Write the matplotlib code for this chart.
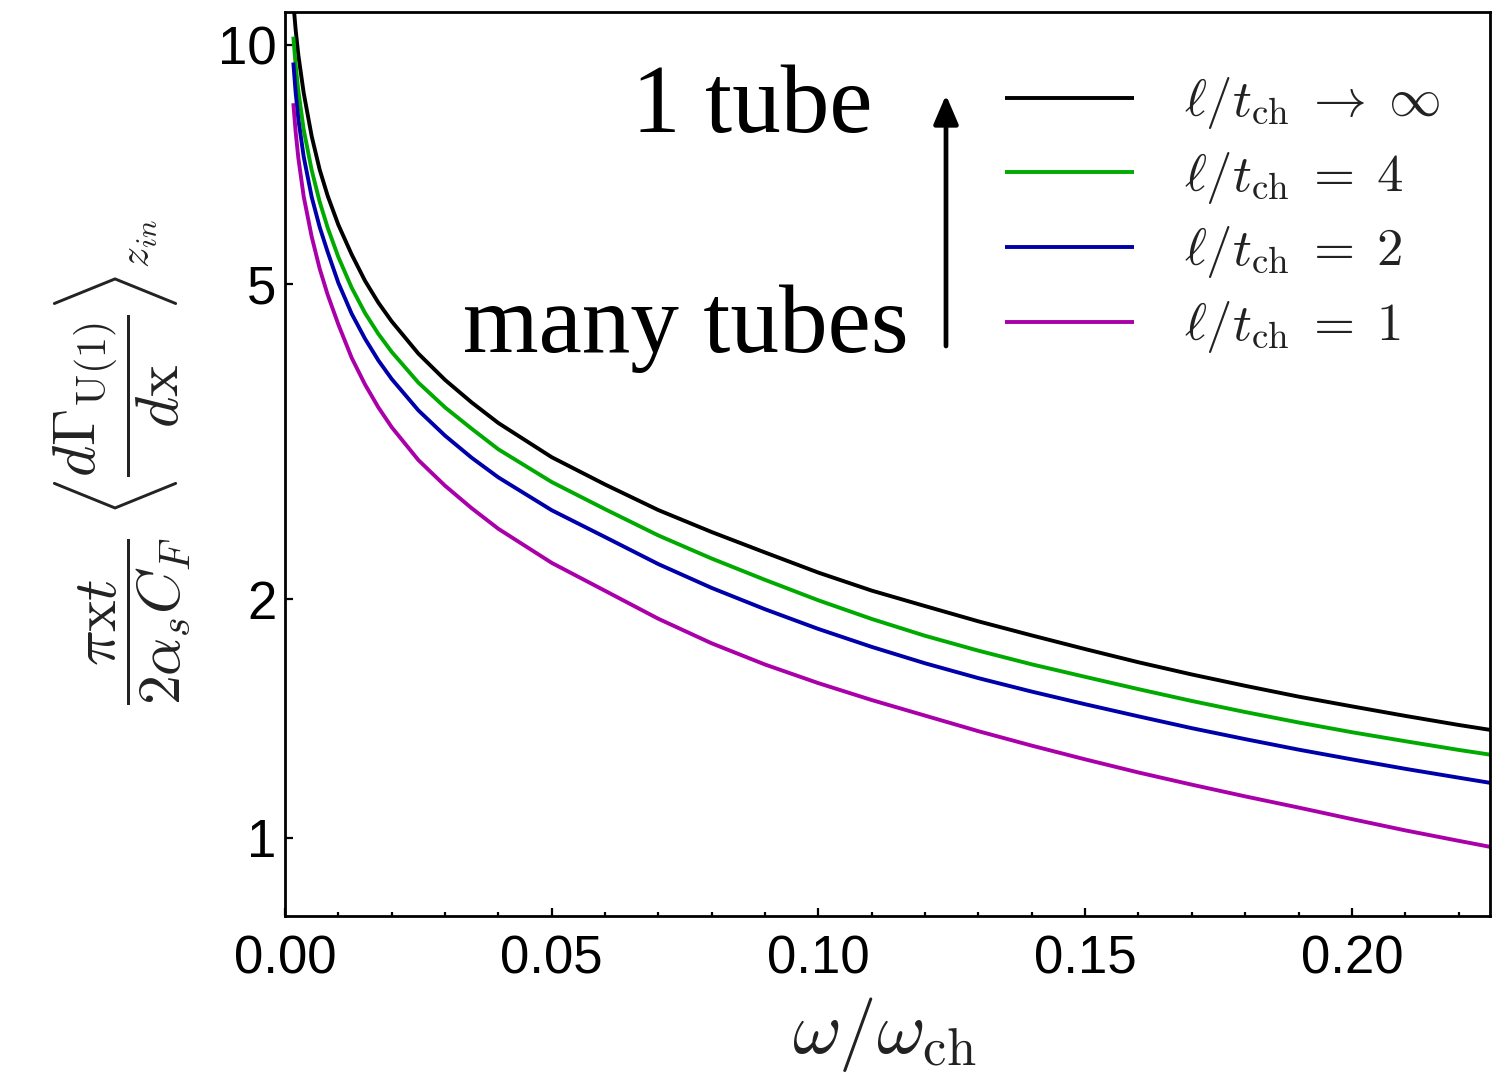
import matplotlib
matplotlib.use("Agg")
import matplotlib.pyplot as plt
from matplotlib.ticker import FixedLocator, FixedFormatter, NullLocator
from matplotlib.transforms import Bbox

plt.rcParams["mathtext.fontset"] = "cm"
plt.rcParams["font.family"] = ["Liberation Sans", "DejaVu Sans"]

# omega / omega_ch sample points shared by all curves
omega = [0.00156, 0.002, 0.0025, 0.0035, 0.005, 0.0065, 0.008, 0.01, 0.0125,
         0.015, 0.0175, 0.02, 0.025, 0.03, 0.035, 0.04, 0.05, 0.06, 0.07,
         0.08, 0.09, 0.10, 0.11, 0.12, 0.13, 0.14, 0.15, 0.16, 0.17, 0.18,
         0.19, 0.20, 0.21, 0.22, 0.226]

# rescaled emission rate for l/t_ch -> infinity, 4, 2, 1
rate_inf = [11.31, 10.44, 9.71, 8.70, 7.67, 6.96, 6.45, 5.93, 5.44,
            5.04, 4.73, 4.48, 4.08, 3.78, 3.54, 3.335, 3.02, 2.79, 2.59,
            2.43, 2.29, 2.16, 2.05, 1.96, 1.875, 1.80, 1.73, 1.665, 1.607, 1.555,
            1.507, 1.465, 1.425, 1.388, 1.368]
rate_4 = [10.24, 9.42, 8.75, 7.82, 6.95, 6.34, 5.88, 5.40, 4.94,
          4.59, 4.32, 4.10, 3.75, 3.49, 3.28, 3.09, 2.81, 2.597, 2.406,
          2.25, 2.115, 1.993, 1.888, 1.798, 1.722, 1.655, 1.596, 1.540, 1.488, 1.441,
          1.398, 1.359, 1.324, 1.291, 1.273]
rate_2 = [9.50, 8.70, 8.06, 7.23, 6.43, 5.89, 5.48, 5.01, 4.58,
          4.26, 4.00, 3.79, 3.46, 3.215, 3.015, 2.848, 2.589, 2.395, 2.214,
          2.066, 1.942, 1.834, 1.741, 1.660, 1.590, 1.529, 1.474, 1.423, 1.375, 1.332,
          1.292, 1.256, 1.222, 1.191, 1.173]
rate_1 = [8.44, 7.76, 7.20, 6.44, 5.73, 5.22, 4.84, 4.44, 4.03,
          3.73, 3.49, 3.295, 2.995, 2.78, 2.604, 2.453, 2.222, 2.049, 1.889,
          1.759, 1.654, 1.567, 1.492, 1.426, 1.363, 1.307, 1.256, 1.209, 1.167, 1.128,
          1.092, 1.056, 1.022, 0.9915, 0.974]

series_labels = [r"$\ell/t_{\rm ch}\;\rightarrow\;\infty$",
                 r"$\ell/t_{\rm ch}\;=\;4$",
                 r"$\ell/t_{\rm ch}\;=\;2$",
                 r"$\ell/t_{\rm ch}\;=\;1$"]
series_colors = ["#000000", "#00aa00", "#0000aa", "#aa00aa"]

x_ticks = [0.00, 0.05, 0.10, 0.15, 0.20]
x_tick_labels = ["0.00", "0.05", "0.10", "0.15", "0.20"]
x_minor_ticks = [0.01, 0.02, 0.03, 0.04, 0.06, 0.07, 0.08, 0.09, 0.11, 0.12,
                 0.13, 0.14, 0.16, 0.17, 0.18, 0.19, 0.21, 0.22]
y_ticks = [1, 2, 5, 10]
y_tick_labels = ["1", "2", "5", "10"]

W, H = 1507, 1078
fig = plt.figure(figsize=(W / 100, H / 100), dpi=100)
ax = fig.add_axes([285 / W, 1 - 916 / H, (1490 - 285) / W, (916 - 12) / H])

lines = []
for yv, lab, col in zip([rate_inf, rate_4, rate_2, rate_1], series_labels, series_colors):
    ln, = ax.plot(omega, yv, color=col, lw=2.8, label=lab, solid_capstyle="butt")
    lines.append(ln)

ax.set_yscale("log")
ax.set_xlim(0, 0.2259)
ax.set_ylim(0.797, 11.0)

ax.yaxis.set_major_locator(FixedLocator(y_ticks))
ax.yaxis.set_major_formatter(FixedFormatter(y_tick_labels))
ax.yaxis.set_minor_locator(NullLocator())
ax.xaxis.set_major_locator(FixedLocator(x_ticks))
ax.xaxis.set_major_formatter(FixedFormatter(x_tick_labels))
ax.xaxis.set_minor_locator(FixedLocator(x_minor_ticks))

ax.tick_params(axis="both", which="both", direction="in", top=False, right=False,
               color="black", width=1.6)
ax.tick_params(axis="both", which="major", length=6, labelsize=38)
ax.tick_params(axis="x", which="major", pad=13)
ax.tick_params(axis="y", which="major", pad=6)
ax.tick_params(axis="x", which="minor", length=3)
for sp in ax.spines.values():
    sp.set_linewidth(2.0)
    sp.set_color("black")

# axis titles
fig.text(884 / W, 1 - 1034 / H, r"$\omega/\omega_{\rm ch}$", fontsize=54,
         ha="center", va="center", color="#222222")
fig.text(122 / W, 1 - 462 / H,
         r"$\dfrac{\pi {\rm x} t}{2\alpha_s C_F}\ \left\langle\dfrac{d\Gamma_{\rm U(1)}}{d{\rm x}}\right\rangle_{z_{in}}$",
         fontsize=43, rotation=90, ha="center", va="center", color="#222222")

# legend
leg = ax.legend(handles=lines, loc="upper left",
                bbox_to_anchor=(1005 / W, 1 - 75 / H),
                bbox_transform=fig.transFigure, frameon=False, fontsize=38,
                handlelength=2.45, handletextpad=0.95, labelspacing=0.355,
                borderpad=0, borderaxespad=0)
for t in leg.get_texts():
    t.set_color("#222222")

# annotations
fig.text(632 / W, 1 - 132 / H, "1 tube", fontsize=70, family="Liberation Serif",
         ha="left", va="baseline")
mt = fig.text(463 / W, 1 - 352 / H, "many tubes", fontsize=70,
              family="Liberation Serif", ha="left", va="baseline")
mt.set_clip_box(Bbox.from_extents(0, H - 373, W, H))
ax.annotate("", xy=(946 / W, 1 - 95 / H), xytext=(946 / W, 1 - 346 / H),
            xycoords="figure fraction", textcoords="figure fraction",
            arrowprops=dict(arrowstyle="-|>,head_length=0.7,head_width=0.3",
                            lw=3.4, color="black", shrinkA=0, shrinkB=0,
                            mutation_scale=25))

fig.savefig("out.png", dpi=100)
